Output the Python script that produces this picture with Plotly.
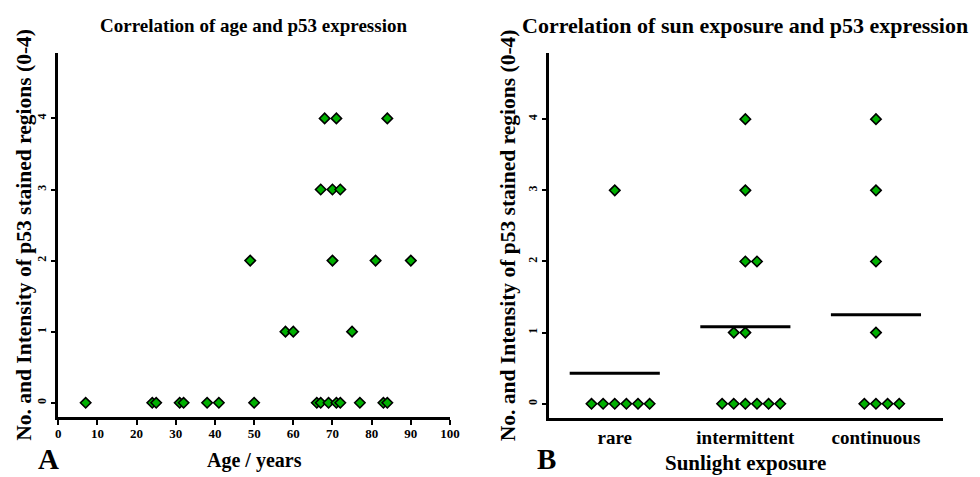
import plotly.graph_objects as go

# ---------------- data ----------------
# Panel A: age vs p53 score
age_score0 = [7, 24, 25, 31, 32, 38, 41, 50, 66, 67, 69, 71, 72, 77, 83, 84]
age_score1 = [58, 60, 75]
age_score2 = [49, 70, 81, 90]
age_score3 = [67, 70, 72]
age_score4 = [68, 71, 84]
scores = [0, 1, 2, 3, 4]

# Panel B: sunlight exposure vs p53 score
categories = ["rare", "intermittent", "continuous"]
rare_vals = [3, 0, 0, 0, 0, 0, 0]
intermittent_vals = [4, 3, 2, 2, 1, 1, 0, 0, 0, 0, 0, 0]
continuous_vals = [4, 3, 2, 1, 0, 0, 0, 0]

x_ticks = [0, 10, 20, 30, 40, 50, 60, 70, 80, 90, 100]
y_ticks = [0, 1, 2, 3, 4]

# ---------------- layout constants ----------------
W, H = 980, 477
FONT = "Liberation Serif"
GREEN = "#00b000"
MARKER = dict(symbol="diamond", size=8, color=GREEN, line=dict(color="black", width=1.6))
SPREAD = 0.089      # horizontal spacing of stacked points (category units)
HALF_LINE = 0.345   # half width of mean line
# starting slot override for the scatter of equal values
START_OVERRIDE = {("intermittent", 1): -1}


def px_x(p):
    return p / W


def px_y(p):
    return 1 - p / H


fig = go.Figure()

# Panel A points
age_groups = [age_score0, age_score1, age_score2, age_score3, age_score4]
ax, ay = [], []
for s, ages in zip(scores, age_groups):
    ax += ages
    ay += [s] * len(ages)
fig.add_trace(go.Scatter(x=ax, y=ay, mode="markers", marker=MARKER,
                         xaxis="x", yaxis="y", showlegend=False, hoverinfo="x+y"))

# Panel B points with column scatter
groups = [rare_vals, intermittent_vals, continuous_vals]
bx, by = [], []
for ci, (cat, vals) in enumerate(zip(categories, groups)):
    for v in sorted(set(vals), reverse=True):
        n = vals.count(v)
        if n % 2 == 1:
            start = -(n // 2)
        else:
            start = -(n // 2 - 1)
        start = START_OVERRIDE.get((cat, v), start)
        for k in range(n):
            bx.append(ci + (start + k) * SPREAD)
            by.append(v)
fig.add_trace(go.Scatter(x=bx, y=by, mode="markers", marker=MARKER,
                         xaxis="x2", yaxis="y2", showlegend=False, hoverinfo="y"))

# mean lines
for ci, vals in enumerate(groups):
    m = sum(vals) / len(vals)
    fig.add_trace(go.Scatter(x=[ci - HALF_LINE, ci + HALF_LINE], y=[m, m], mode="lines",
                             line=dict(color="black", width=3),
                             xaxis="x2", yaxis="y2", showlegend=False, hoverinfo="skip"))

axis_common = dict(showgrid=False, zeroline=False, showline=True, linecolor="black",
                   linewidth=3, mirror=False)
ytick_font = dict(family=FONT, size=12, color="black", weight="bold")

fig.update_layout(
    width=W, height=H,
    margin=dict(l=0, r=0, t=0, b=0),
    paper_bgcolor="white", plot_bgcolor="white",
    font=dict(family=FONT, color="black"),
    xaxis=dict(domain=[px_x(56), px_x(453)], range=[0, 100], anchor="y",
               tickmode="array", tickvals=x_ticks, ticktext=[str(t) for t in x_ticks],
               ticks="outside", ticklen=5, tickwidth=2, tickcolor="black",
               ticklabelstandoff=-3,
               tickfont=dict(family=FONT, size=13, color="black", weight="bold"),
               **axis_common),
    yaxis=dict(domain=[px_y(417), px_y(53)], range=[-0.2, 4.92], anchor="x",
               tickmode="array", tickvals=y_ticks, ticktext=[str(t) for t in y_ticks],
               ticks="outside", ticklen=4, tickwidth=2, tickcolor="black", tickangle=-90,
               tickfont=ytick_font, **axis_common),
    xaxis2=dict(domain=[px_x(553), px_x(953)], range=[-0.506, 2.516], anchor="y2",
                tickmode="array", tickvals=[0, 1, 2], ticktext=categories, ticks="",
                tickfont=dict(family=FONT, size=19, color="black", weight="bold"),
                **axis_common),
    yaxis2=dict(domain=[px_y(418), px_y(53)], range=[-0.2, 4.93], anchor="x2",
                tickmode="array", tickvals=y_ticks, ticktext=[str(t) for t in y_ticks],
                ticks="outside", ticklen=4, tickwidth=2, tickcolor="black", tickangle=-90,
                tickfont=ytick_font, **axis_common),
)

ann_font = dict(family=FONT, color="black", weight="bold")
annotations = [
    dict(text="Correlation of age and p53 expression", x=px_x(254), y=px_y(25),
         font=dict(size=19, **ann_font)),
    dict(text="Correlation of sun exposure and p53 expression", x=px_x(752), y=px_y(25),
         font=dict(size=22, **ann_font)),
    dict(text="No. and Intensity of p53 stained regions (0-4)", x=px_x(21), y=px_y(235),
         textangle=-90, font=dict(size=21.5, **ann_font)),
    dict(text="No. and Intensity of p53 stained regions (0-4)", x=px_x(512), y=px_y(235),
         textangle=-90, font=dict(size=21.5, **ann_font)),
    dict(text="Age / years", x=px_x(255), y=px_y(460), font=dict(size=20, **ann_font)),
    dict(text="Sunlight exposure", x=px_x(752), y=0, yanchor="bottom",
         font=dict(size=21, **ann_font)),
    dict(text="A", x=px_x(46), y=0, yanchor="bottom", font=dict(size=29, **ann_font)),
    dict(text="B", x=px_x(551), y=0, yanchor="bottom", font=dict(size=29, **ann_font)),
]
for a in annotations:
    a.setdefault("yanchor", "middle")
    a.update(xref="paper", yref="paper", showarrow=False, xanchor="center")
fig.update_layout(annotations=annotations)

fig.write_html(
    "out.html",
    config={"displayModeBar": False},
    post_script=("document.documentElement.style.margin='0';"
                 "document.documentElement.style.overflow='hidden';"
                 "document.body.style.margin='0';document.body.style.padding='0';"
                 "document.body.style.overflow='hidden';"),
)
